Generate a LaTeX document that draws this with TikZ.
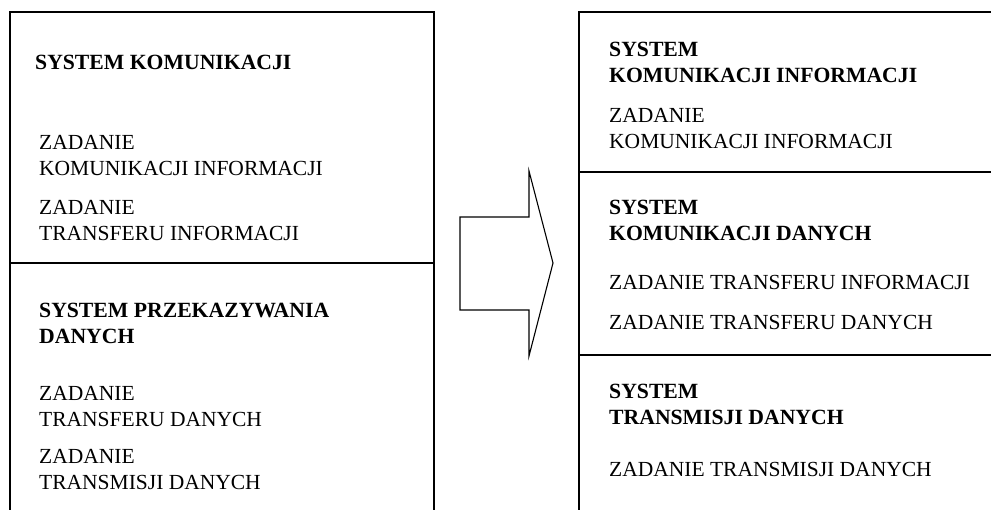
\documentclass[tikz,border=0pt]{standalone}
\usepackage{fontspec}
\setmainfont{Liberation Serif}
\begin{document}
\begin{tikzpicture}[x=1pt,y=-1pt,
  frame/.style={draw=black,line width=1.3pt},
  shift arrow/.style={draw=black,line width=1.1pt,line join=miter},
  txt/.style={anchor=north west,inner sep=0pt,align=left,
    font=\fontsize{21.5}{25.8}\selectfont},
  head/.style={txt,font=\fontsize{21.7}{25.8}\selectfont\bfseries}]
\useasboundingbox (0,0) rectangle (991,510);
\clip (0,0) rectangle (991,510);

% left frame: old structure
\draw[frame] (10,520) -- (10,12) -- (434,12) -- (434,520);
\draw[frame] (10,263) -- (434,263);

% right frame: new structure
\draw[frame] (579,520) -- (579,12) -- (1000,12);
\draw[frame] (579,172) -- (1000,172);
\draw[frame] (579,355) -- (1000,355);

% block arrow between the two frames
\draw[shift arrow] (460,217) -- (529,217) -- (529,171) -- (553,263)
  -- (529,356) -- (529,310) -- (460,310) -- cycle;

% left frame texts
\node[head] (l1) at (35,55) {SYSTEM KOMUNIKACJI};
\node[txt]  (l2) at (39,135) {ZADANIE\\KOMUNIKACJI INFORMACJI};
\node[txt]  (l3) at (39,200) {ZADANIE\\TRANSFERU INFORMACJI};
\node[head] (l4) at (39,303) {SYSTEM PRZEKAZYWANIA\\DANYCH};
\node[txt]  (l5) at (39,386) {ZADANIE\\TRANSFERU DANYCH};
\node[txt]  (l6) at (39,449) {ZADANIE\\TRANSMISJI DANYCH};

% right frame texts
\node[head] (r1) at (609,42) {SYSTEM\\KOMUNIKACJI INFORMACJI};
\node[txt]  (r2) at (609,108) {ZADANIE\\KOMUNIKACJI INFORMACJI};
\node[head] (r3) at (609,200) {SYSTEM\\KOMUNIKACJI DANYCH};
\node[txt]  (r4) at (609,275) {ZADANIE TRANSFERU INFORMACJI};
\node[txt]  (r5) at (609,315) {ZADANIE TRANSFERU DANYCH};
\node[head] (r6) at (609,384) {SYSTEM\\TRANSMISJI DANYCH};
\node[txt]  (r7) at (609,462) {ZADANIE TRANSMISJI DANYCH};
\end{tikzpicture}
\end{document}
